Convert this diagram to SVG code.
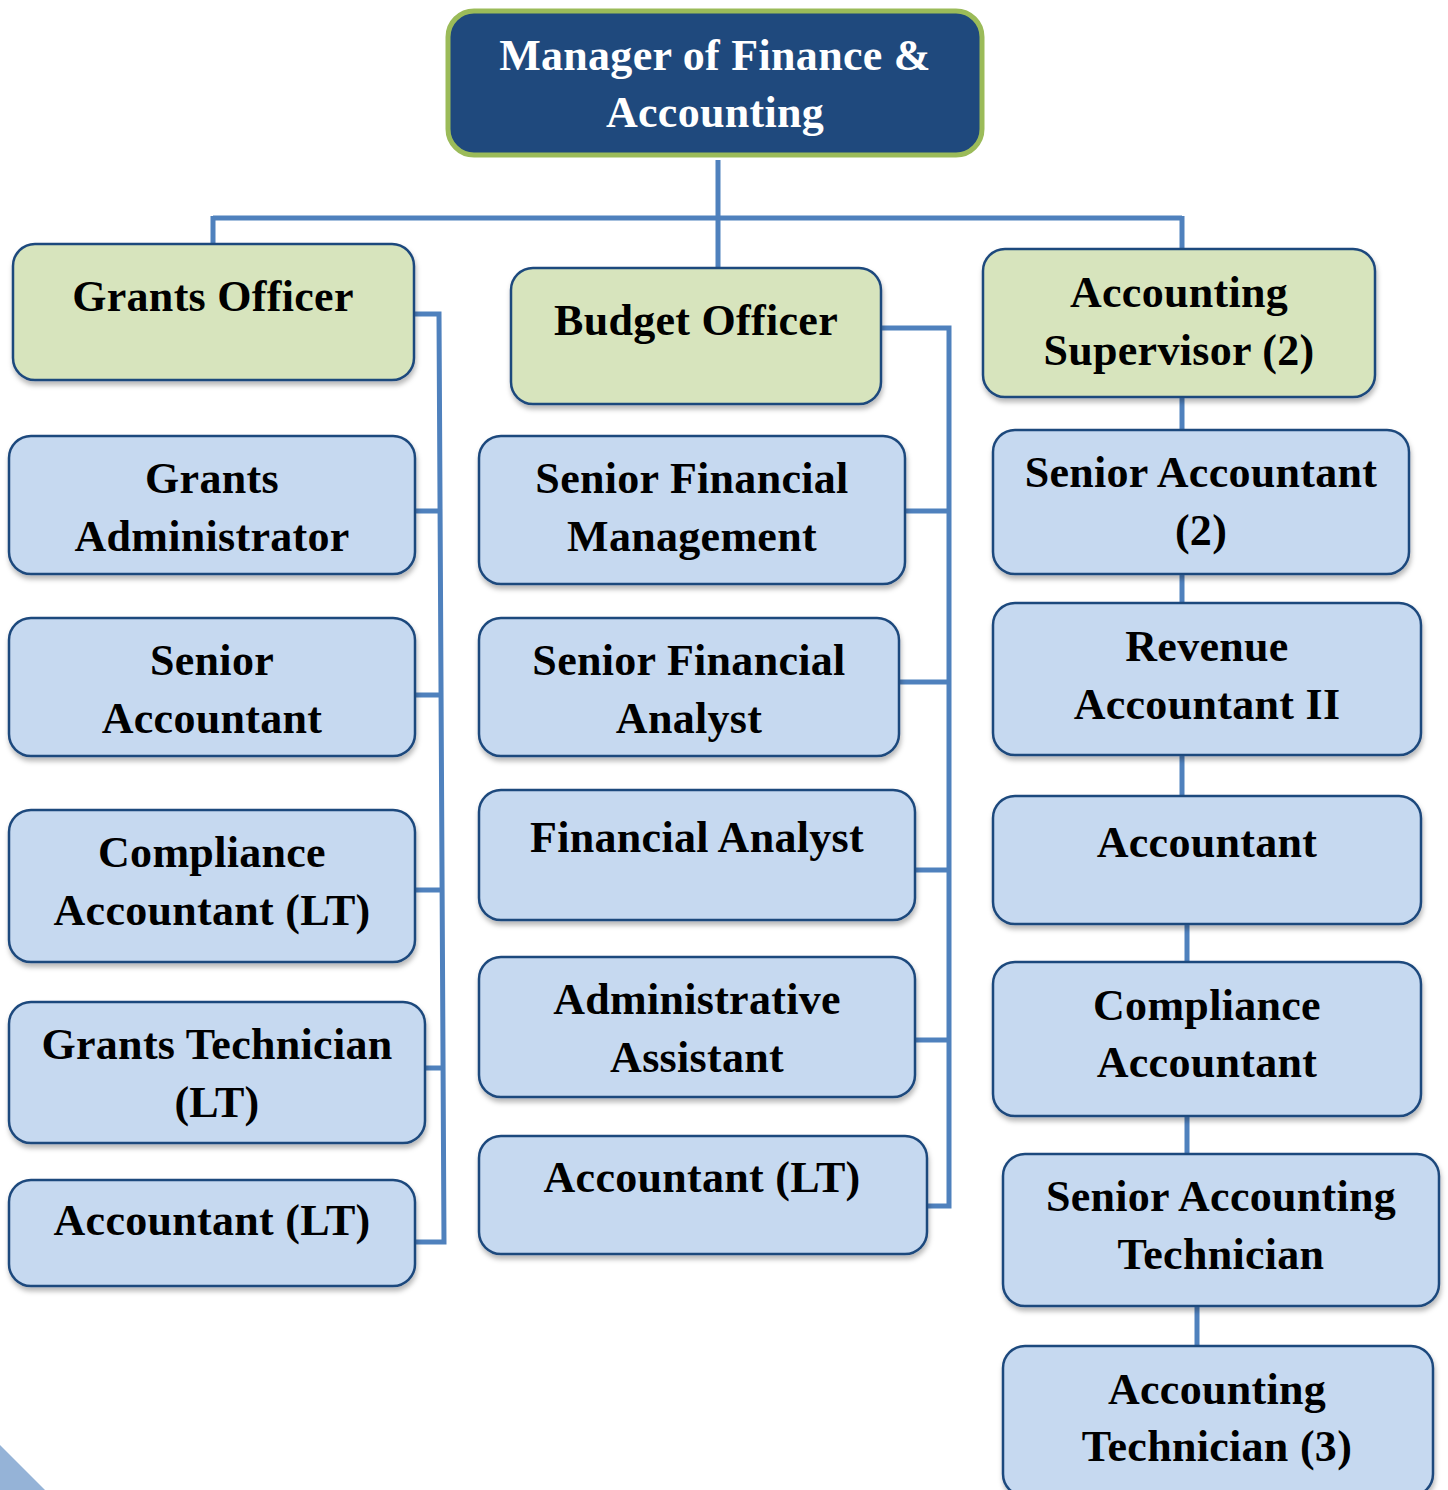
<svg xmlns="http://www.w3.org/2000/svg" width="1448" height="1490" viewBox="0 0 1448 1490">
<defs>
<filter id="sh" x="-10%" y="-10%" width="120%" height="130%">
<feDropShadow dx="1" dy="4" stdDeviation="2.5" flood-color="#000" flood-opacity="0.28"/>
</filter>
<style>
.box{fill:#c6d9f0;stroke:#1f497d;stroke-width:2.5;filter:url(#sh)}
.grn{fill:#d7e4bd;stroke:#1f497d;stroke-width:2.5;filter:url(#sh)}
.top{fill:#1f497d;stroke:#9bbb59;stroke-width:5}
.t{font-family:"Liberation Serif","Times New Roman",serif;font-weight:bold;font-size:44px;fill:#000;text-anchor:middle;letter-spacing:0.3px}
.tw{fill:#fff}
.c{fill:none;stroke:#4f81bd;stroke-width:5}
</style>
</defs>
<rect x="0" y="0" width="1448" height="1490" fill="#fff"/>
<polygon points="0,1445 45,1490 0,1490" fill="#95b3d7"/>

<g id="connectors">
<path class="c" d="M718,160 V268 M213,218 H1182 M213,216 V246 M1182,216 V250"/>
<path class="c" d="M414,314 H439 L444,1242 H415 M415,511 H441 M415,695 H442 M415,890 H443 M425,1068 H443"/>
<path class="c" d="M881,328 H949 V1206 H927 M905,511 H951 M899,682 H949 M915,870 H949 M915,1040 H949"/>
<path class="c" d="M1182,397 V430 M1182,574 V603 M1182,755 V796 M1187,924 V962 M1187,1116 V1154 M1197,1306 V1346"/>
</g>

<g id="n-manager">
<rect class="top" x="448" y="11" width="534" height="144" rx="26"/>
<text class="t tw" x="715" y="70">Manager of Finance &amp;</text>
<text class="t tw" x="715" y="127">Accounting</text>
</g>

<g id="n-grants-officer">
<rect class="grn" x="13" y="244" width="401" height="136" rx="22"/>
<text class="t" x="213" y="311">Grants Officer</text>
</g>
<g id="n-budget-officer">
<rect class="grn" x="511" y="268" width="370" height="136" rx="22"/>
<text class="t" x="696" y="335">Budget Officer</text>
</g>
<g id="n-accounting-supervisor">
<rect class="grn" x="983" y="249" width="392" height="148" rx="22"/>
<text class="t" x="1179" y="307">Accounting</text>
<text class="t" x="1179" y="365">Supervisor (2)</text>
</g>

<g id="n-grants-administrator">
<rect class="box" x="9" y="436" width="406" height="138" rx="22"/>
<text class="t" x="212" y="493">Grants</text>
<text class="t" x="212" y="551">Administrator</text>
</g>
<g id="n-senior-accountant">
<rect class="box" x="9" y="618" width="406" height="138" rx="22"/>
<text class="t" x="212" y="675">Senior</text>
<text class="t" x="212" y="733">Accountant</text>
</g>
<g id="n-compliance-accountant-lt">
<rect class="box" x="9" y="810" width="406" height="152" rx="22"/>
<text class="t" x="212" y="867">Compliance</text>
<text class="t" x="212" y="925">Accountant (LT)</text>
</g>
<g id="n-grants-technician-lt">
<rect class="box" x="9" y="1002" width="416" height="141" rx="22"/>
<text class="t" x="217" y="1059">Grants Technician</text>
<text class="t" x="217" y="1117">(LT)</text>
</g>
<g id="n-accountant-lt-left">
<rect class="box" x="9" y="1180" width="406" height="106" rx="22"/>
<text class="t" x="212" y="1235">Accountant (LT)</text>
</g>

<g id="n-senior-financial-management">
<rect class="box" x="479" y="436" width="426" height="148" rx="22"/>
<text class="t" x="692" y="493">Senior Financial</text>
<text class="t" x="692" y="551">Management</text>
</g>
<g id="n-senior-financial-analyst">
<rect class="box" x="479" y="618" width="420" height="138" rx="22"/>
<text class="t" x="689" y="675">Senior Financial</text>
<text class="t" x="689" y="733">Analyst</text>
</g>
<g id="n-financial-analyst">
<rect class="box" x="479" y="790" width="436" height="130" rx="22"/>
<text class="t" x="697" y="852">Financial Analyst</text>
</g>
<g id="n-administrative-assistant">
<rect class="box" x="479" y="957" width="436" height="140" rx="22"/>
<text class="t" x="697" y="1014">Administrative</text>
<text class="t" x="697" y="1072">Assistant</text>
</g>
<g id="n-accountant-lt-mid">
<rect class="box" x="479" y="1136" width="448" height="118" rx="22"/>
<text class="t" x="702" y="1192">Accountant (LT)</text>
</g>

<g id="n-senior-accountant-2">
<rect class="box" x="993" y="430" width="416" height="144" rx="22"/>
<text class="t" x="1201" y="487">Senior Accountant</text>
<text class="t" x="1201" y="545">(2)</text>
</g>
<g id="n-revenue-accountant-ii">
<rect class="box" x="993" y="603" width="428" height="152" rx="22"/>
<text class="t" x="1207" y="661">Revenue</text>
<text class="t" x="1207" y="719">Accountant II</text>
</g>
<g id="n-accountant">
<rect class="box" x="993" y="796" width="428" height="128" rx="22"/>
<text class="t" x="1207" y="857">Accountant</text>
</g>
<g id="n-compliance-accountant">
<rect class="box" x="993" y="962" width="428" height="154" rx="22"/>
<text class="t" x="1207" y="1020">Compliance</text>
<text class="t" x="1207" y="1077">Accountant</text>
</g>
<g id="n-senior-accounting-technician">
<rect class="box" x="1003" y="1154" width="436" height="152" rx="22"/>
<text class="t" x="1221" y="1211">Senior Accounting</text>
<text class="t" x="1221" y="1269">Technician</text>
</g>
<g id="n-accounting-technician-3">
<rect class="box" x="1003" y="1346" width="430" height="150" rx="22"/>
<text class="t" x="1217" y="1404">Accounting</text>
<text class="t" x="1217" y="1461">Technician (3)</text>
</g>
</svg>
